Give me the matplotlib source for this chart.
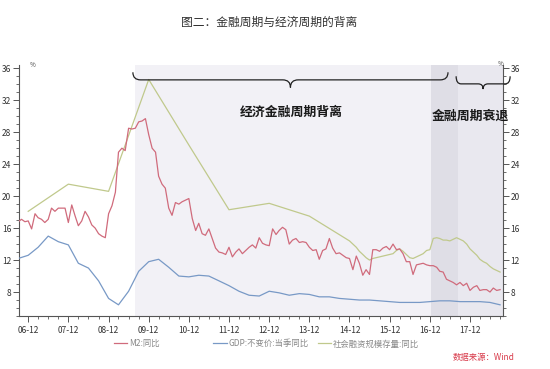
import matplotlib
matplotlib.use('Agg')
import matplotlib.pyplot as plt
import matplotlib.dates as mdates
from matplotlib.path import Path
from matplotlib.patches import PathPatch
from matplotlib.lines import Line2D
from matplotlib.ticker import MultipleLocator
import pandas as pd

plt.rcParams['font.family'] = ['Noto Sans CJK SC', 'DejaVu Sans']

# M2 year-on-year, monthly from 2006-09 to 2018-09
m2_dates = pd.date_range('2006-09-01', '2018-09-01', freq='MS')
m2 = [16.8, 17.1, 16.8, 16.9,
      15.9, 17.8, 17.3, 17.1, 16.7, 17.1, 18.5, 18.1, 18.5, 18.5, 18.5, 16.7,
      18.9, 17.5, 16.3, 16.9, 18.1, 17.4, 16.4, 16.0, 15.3, 15.0, 14.8, 17.8,
      18.8, 20.5, 25.5, 26.0, 25.7, 28.5, 28.4, 28.5, 29.3, 29.4, 29.7, 27.7,
      26.0, 25.5, 22.5, 21.5, 21.0, 18.5, 17.6, 19.2, 19.0, 19.3, 19.5, 19.7,
      17.2, 15.7, 16.6, 15.3, 15.1, 15.9, 14.7, 13.5, 13.0, 12.9, 12.7, 13.6,
      12.4, 13.0, 13.4, 12.8, 13.2, 13.6, 13.9, 13.5, 14.8, 14.1, 13.9, 13.8,
      15.9, 15.2, 15.7, 16.1, 15.8, 14.0, 14.5, 14.7, 14.2, 14.3, 14.2, 13.6,
      13.2, 13.3, 12.1, 13.2, 13.4, 14.7, 13.5, 12.8, 12.9, 12.6, 12.3, 12.2,
      10.8, 12.5, 11.6, 10.1, 10.8, 10.2, 13.3, 13.3, 13.1, 13.5, 13.7, 13.3,
      14.0, 13.3, 13.4, 12.8, 11.8, 11.8, 10.2, 11.4, 11.5, 11.6, 11.4, 11.3,
      11.3, 11.1, 10.6, 10.5, 9.6, 9.4, 9.2, 8.9, 9.2, 8.8, 9.1, 8.2,
      8.6, 8.8, 8.2, 8.3, 8.3, 8.0, 8.5, 8.2, 8.3]

# GDP constant price, quarterly yoy, 2006Q3 - 2018Q3
gdp_dates = pd.date_range('2006-09-01', '2018-09-01', freq='3MS')
gdp = [12.2, 12.6,
       13.6, 15.0, 14.3, 13.9,
       11.6, 11.0, 9.4, 7.2,
       6.4, 8.1, 10.6, 11.8,
       12.1, 11.1, 10.0, 9.9,
       10.1, 10.0, 9.4, 8.8,
       8.1, 7.6, 7.5, 8.1,
       7.9, 7.6, 7.8, 7.7,
       7.4, 7.4, 7.2, 7.1,
       7.0, 7.0, 6.9, 6.8,
       6.7, 6.7, 6.7, 6.8,
       6.9, 6.9, 6.8, 6.8,
       6.8, 6.7, 6.4]

# social financing stock yoy: yearly points, then monthly from 2015
tsf_dates = list(pd.to_datetime(['2006-12-01', '2007-12-01', '2008-12-01', '2009-12-01',
                                 '2010-12-01', '2011-12-01', '2012-12-01', '2013-12-01',
                                 '2014-12-01'])) + list(pd.date_range('2015-01-01', '2018-09-01', freq='MS'))
tsf = [18.1, 21.5, 20.6, 34.6, 26.4, 18.3, 19.1, 17.5, 14.4,
       14.0, 13.6, 13.1, 12.7, 12.3, 12.0, 12.2, 12.3, 12.4, 12.5, 12.6, 12.7,
       12.8, 13.2, 13.4, 13.1, 12.7, 12.3, 12.2, 12.4, 12.6, 12.8, 13.2, 13.3,
       14.7, 14.8, 14.7, 14.5, 14.5, 14.4, 14.6, 14.8, 14.6, 14.4, 14.0, 13.4,
       13.0, 12.6, 12.1, 11.8, 11.6, 11.2, 10.9, 10.7, 10.5]

year_ticks = pd.date_range('2006-12-01', '2017-12-01', freq='12MS')

c_m2 = '#d06b7c'
c_gdp = '#7899c6'
c_tsf = '#c0c98c'

fig = plt.figure(figsize=(5.5, 3.69), dpi=100)
ax = fig.add_axes([0.0345, 0.1436, 0.88, 0.680])

d = mdates.date2num
ax.axvspan(d(pd.Timestamp('2009-08-01')), d(pd.Timestamp('2016-12-15')), color='#f2f1f6', lw=0, zorder=0)
ax.axvspan(d(pd.Timestamp('2016-12-15')), d(pd.Timestamp('2017-08-10')), color='#dfdee6', lw=0, zorder=0)
ax.axvspan(d(pd.Timestamp('2017-08-10')), d(pd.Timestamp('2018-09-27')), color='#e9e8ef', lw=0, zorder=0)

ax.plot(m2_dates, m2, color=c_m2, lw=0.9, zorder=3)
ax.plot(gdp_dates, gdp, color=c_gdp, lw=0.9, zorder=3)
ax.plot(tsf_dates, tsf, color=c_tsf, lw=0.9, zorder=2)

ax.set_xlim(pd.Timestamp('2006-09-08'), pd.Timestamp('2018-09-27'))
ax.set_ylim(5, 36.4)

ax.set_xticks(year_ticks)
ax.set_xticklabels([t.strftime('%y-%m') for t in year_ticks])
ax.xaxis.set_minor_locator(mdates.MonthLocator(bymonth=[3, 6, 9, 12]))
ax.yaxis.set_major_locator(MultipleLocator(4))
ax.yaxis.set_minor_locator(MultipleLocator(1))
ax.set_yticks(range(8, 37, 4))

ax.spines['top'].set_visible(False)
for s in ['left', 'right', 'bottom']:
    ax.spines[s].set_color('#555555')
    ax.spines[s].set_linewidth(0.8)
ax.tick_params(axis='both', which='major', labelsize=6, colors='#555555', labelcolor='#333333',
               length=4, width=0.7, pad=1.5)
ax.tick_params(axis='both', which='minor', colors='#555555', length=2, width=0.6)
ax.tick_params(axis='y', which='both', left=True, right=True, labelleft=True, labelright=True)
ax.tick_params(axis='x', which='major', pad=3)

fig.text(0.054, 0.823, '%', fontsize=4.5, color='#444444', va='center')
fig.text(0.905, 0.826, '%', fontsize=4.5, color='#444444', va='center')


def brace(x0, x1, y_tip, y_bar, y_cusp, w):
    xm = (x0 + x1) / 2
    verts = [(x0, y_tip), (x0, y_bar), (x0 + w, y_bar), (xm - w, y_bar),
             (xm, y_bar), (xm, y_cusp), (xm, y_bar), (xm + w, y_bar),
             (x1 - w, y_bar), (x1, y_bar), (x1, y_tip)]
    codes = [Path.MOVETO, Path.CURVE3, Path.CURVE3, Path.LINETO,
             Path.CURVE3, Path.CURVE3, Path.CURVE3, Path.CURVE3,
             Path.LINETO, Path.CURVE3, Path.CURVE3]
    ax.add_patch(PathPatch(Path(verts, codes), fill=False, color='#222222', lw=0.9,
                           clip_on=False, zorder=5))


brace(d(pd.Timestamp('2009-07-10')), d(pd.Timestamp('2017-05-15')), 35.5, 34.55, 33.6, 70)
brace(d(pd.Timestamp('2017-07-28')), d(pd.Timestamp('2018-12-01')), 35.0, 34.05, 33.4, 45)

ax.text(pd.Timestamp('2013-06-23'), 30.5, '经济金融周期背离', fontsize=9.3, color='#1a1a1a',
        ha='center', va='center', fontweight='bold')
ax.text(pd.Timestamp('2017-12-05'), 30.1, '金融周期衰退', fontsize=9.3, color='#1a1a1a',
        ha='center', va='center', fontweight='bold', clip_on=False)

fig.text(0.49, 0.9385, '图二：金融周期与经济周期的背离', fontsize=8.5, color='#333333',
         ha='center', va='center')

# legend with fixed slots
labels = ['M2:同比', 'GDP:不变价:当季同比', '社会融资规模存量:同比']
colors = [c_m2, c_gdp, c_tsf]
slots = [0.207, 0.388, 0.578]
for lab, col, xs in zip(labels, colors, slots):
    lg = fig.legend([Line2D([], [], color=col, lw=0.9)], [lab], loc='center left',
                    bbox_to_anchor=(xs, 0.068), frameon=False, fontsize=6,
                    handlelength=1.6, handletextpad=0.2, borderaxespad=0, borderpad=0)
    for t in lg.get_texts():
        t.set_color('#888888')

fig.text(0.935, 0.03, '数据来源：Wind', fontsize=6, color='#d83a4a', style='italic',
         ha='right', va='center')

plt.savefig('out.png', dpi=100)
